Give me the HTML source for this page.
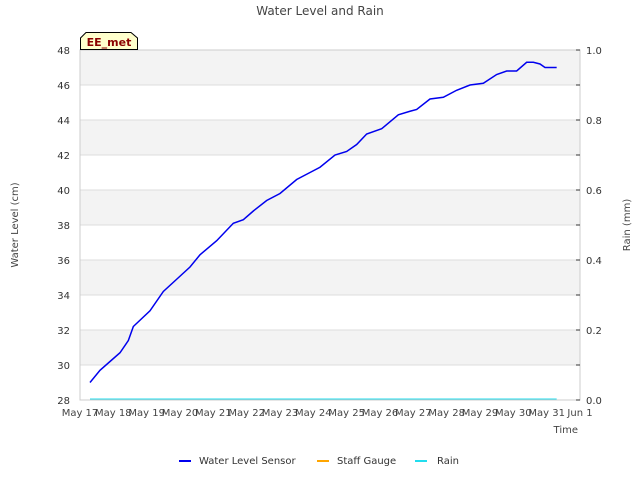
<!DOCTYPE html>
<html><head><meta charset="utf-8"><style>
body{margin:0;background:#fff;}
svg text{font-family:"DejaVu Sans","Liberation Sans",sans-serif;}
</style></head><body>
<svg id="chart" width="640" height="480" viewBox="0 0 640 480">
<rect width="640" height="480" fill="#fff"/>
<text x="320" y="15" text-anchor="middle" font-size="12" fill="#444">Water Level and Rain</text>
<g id="bands"></g>
<g id="grid"></g>
<rect x="80" y="50" width="500" height="350" fill="none" stroke="#ccc"/>
<g id="yl"></g>
<g id="yr"></g>
<g id="xa"></g>
<g id="series"></g>
<text x="18" y="225" transform="rotate(-90 18 225)" text-anchor="middle" font-size="10" fill="#444">Water Level (cm)</text>
<text x="630" y="225" transform="rotate(-90 630 225)" text-anchor="middle" font-size="10" fill="#444">Rain (mm)</text>
<text x="578" y="433" text-anchor="end" font-size="10" fill="#444">Time</text>
<g>
<path d="M80.5,49.5 L80.5,38 L86,32.5 L131,32.5 L137.5,38 L137.5,49.5 Z" fill="#ffffcc" stroke="#000"/>
<text x="109" y="46" text-anchor="middle" font-size="11" font-weight="bold" fill="#8b0000">EE_met</text>
</g>
<g>
<g><line x1="179" y1="461" x2="191" y2="461" stroke="#0000ee" stroke-width="2"/><text x="199" y="464" font-size="10" fill="#333">Water Level Sensor</text></g>
<g><line x1="317" y1="461" x2="329" y2="461" stroke="#ffa500" stroke-width="2"/><text x="337" y="464" font-size="10" fill="#333">Staff Gauge</text></g>
<g><line x1="415" y1="461" x2="427" y2="461" stroke="#22ddee" stroke-width="2"/><text x="437" y="464" font-size="10" fill="#333">Rain</text></g>
</g>
</svg>
<script>
const days=[0.3,0.6,0.9,1.2,1.45,1.6,2.1,2.5,2.9,3.3,3.6,4.1,4.6,4.9,5.2,5.6,6.0,6.5,6.9,7.2,7.65,8.0,8.3,8.6,9.05,9.55,9.9,10.1,10.5,10.9,11.3,11.7,12.1,12.5,12.8,13.1,13.4,13.6,13.8,13.95,14.3];
const level=[29.0,29.7,30.2,30.7,31.4,32.2,33.1,34.2,34.9,35.6,36.3,37.1,38.1,38.3,38.8,39.4,39.8,40.6,41.0,41.3,42.0,42.2,42.6,43.2,43.5,44.3,44.5,44.6,45.2,45.3,45.7,46.0,46.1,46.6,46.8,46.8,47.3,47.3,47.2,47.0,47.0];
const rainDays=[0.3,14.3];
const rain=[0,0];
const xLabels=["May 17","May 18","May 19","May 20","May 21","May 22","May 23","May 24","May 25","May 26","May 27","May 28","May 29","May 30","May 31","Jun 1"];
const yLeftTicks=[28,30,32,34,36,38,40,42,44,46,48];
const yRightTicks=[0.0,0.2,0.4,0.6,0.8,1.0];
const NS="http://www.w3.org/2000/svg";
const X=d=>80+d*500/15, Y=v=>400-(v-28)*350/20, YR=v=>400-v*350;
function mk(p,t,a,txt){const e=document.createElementNS(NS,t);for(const k in a)e.setAttribute(k,a[k]);if(txt!==undefined)e.textContent=txt;document.getElementById(p).appendChild(e);return e;}
for(let i=0;i<yLeftTicks.length-1;i++){if(i%2==1){const r=mk('bands','rect',{x:80,y:Y(yLeftTicks[i+1]),width:500,height:Y(yLeftTicks[i])-Y(yLeftTicks[i+1]),fill:'#f3f3f3'});}}
yLeftTicks.forEach(v=>{const l=mk('grid','line',{x1:80,x2:580,y1:Y(v),y2:Y(v),stroke:'#ddd'});
const t=mk('yl','text',{x:70,y:Y(v)+4,'text-anchor':'end','font-size':10,fill:'#333'},v);});
for(let v=0;v<=1.0001;v+=0.1){mk('yr','line',{x1:576,x2:580,y1:YR(v),y2:YR(v),stroke:'#333'});}
yRightTicks.forEach(v=>{const t=mk('yr','text',{x:586,y:YR(v)+4,'font-size':10,fill:'#333'},v.toFixed(1));});
xLabels.forEach((s,i)=>{const t=mk('xa','text',{x:X(i),y:416,'text-anchor':'middle','font-size':10,fill:'#444'},s);});
const rp=mk('series','polyline',{points:rainDays.map((d,i)=>X(d)+','+(YR(rain[i])-1)).join(' '),fill:'none',stroke:'#22ddee','stroke-width':1});

const wp=mk('series','polyline',{points:days.map((d,i)=>X(d)+','+Y(level[i])).join(' '),fill:'none',stroke:'#0000ee','stroke-width':1.5});

</script>
</body></html>
